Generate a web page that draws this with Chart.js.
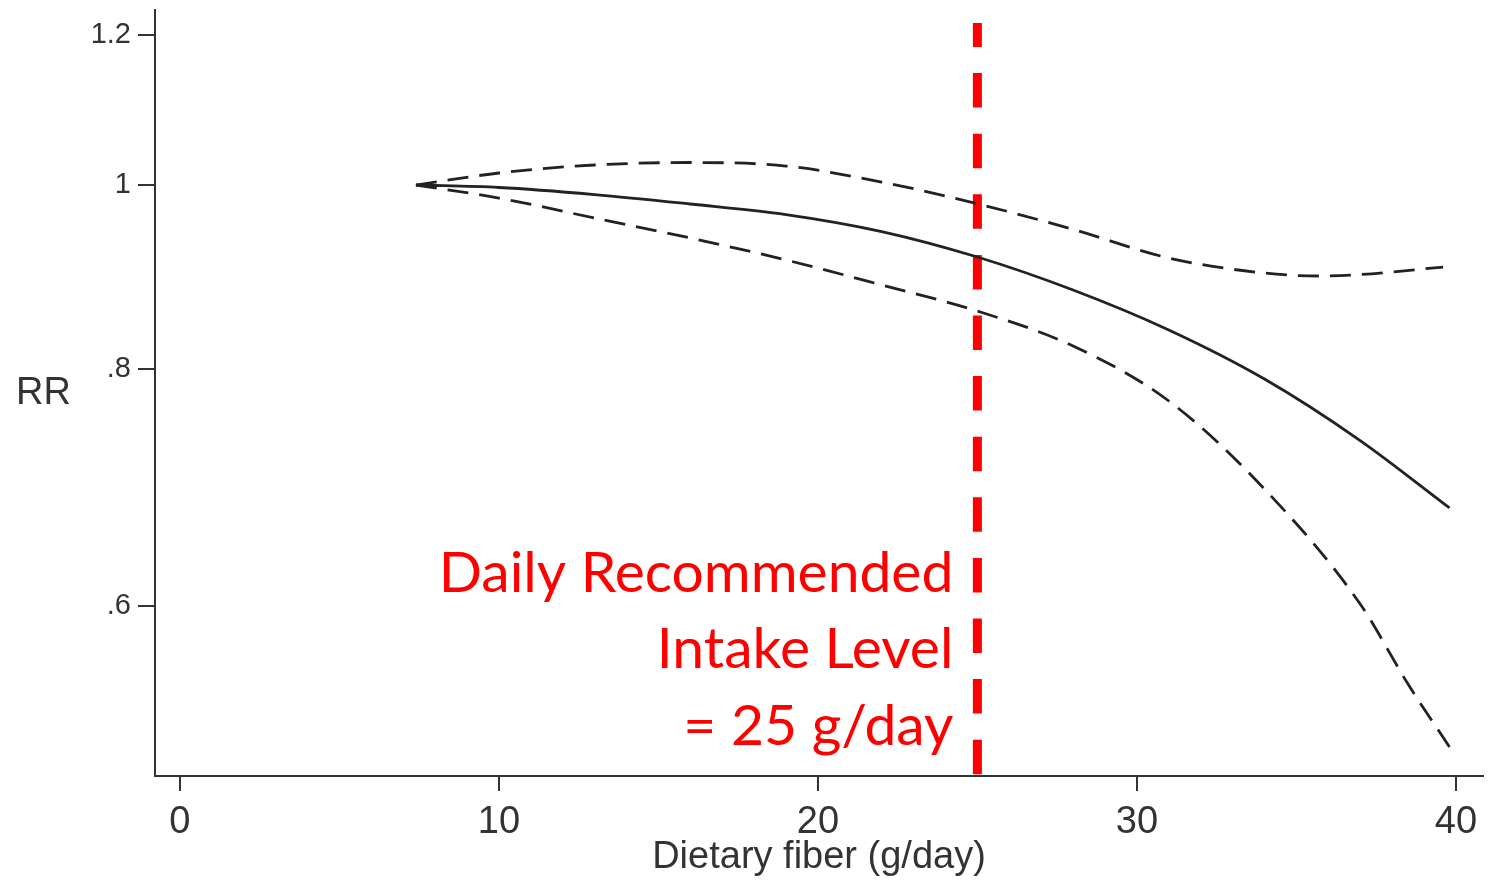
<!DOCTYPE html>
<html>
<head>
<meta charset="utf-8">
<script src="https://cdn.jsdelivr.net/npm/chart.js@4.4.1/dist/chart.umd.min.js"></script>
<style>
  html, body { margin: 0; padding: 0; background: #ffffff; }
  canvas { display: block; }
</style>
</head>
<body>
<canvas id="fiberChart" width="1504" height="881"></canvas>
<script>
// Dose-response of dietary fiber intake vs relative risk (RR), with 95% CI
const estimateFiber = [7.4, 10, 13, 16, 19, 22, 25, 28, 31, 34, 37, 39.8];
const estimateRR    = [1, 0.997, 0.9885, 0.9772, 0.9648, 0.9451, 0.9163, 0.8803, 0.8386, 0.7901, 0.7332, 0.6756];

const upperFiber = [7.4, 10, 13, 16, 19, 22, 25, 28, 31, 34, 35.7, 37, 39.6];
const upperRR    = [1, 1.0147, 1.0246, 1.0277, 1.0233, 1.0036, 0.9775, 0.9476, 0.9152, 0.8986, 0.8954, 0.8970, 0.9052];

const lowerFiber = [7.4, 10, 13, 16, 19, 22, 25, 28, 31, 34, 37, 38.5, 39.8];
const lowerRR    = [1, 0.9843, 0.9607, 0.9377, 0.9130, 0.8857, 0.8581, 0.8224, 0.7693, 0.6913, 0.6012, 0.5455, 0.5054];

// Recommended daily intake marker
const recommendedIntake = 25;
const markerRR = [1.2174, 0.4879];
const annotationLines = ['Daily Recommended', 'Intake Level', '= 25 g/day'];

// Axis ticks
const xTicks = [0, 10, 20, 30, 40];
const yTicks = [0.6, 0.8, 1, 1.2];
const yTickLabels = ['.6', '.8', '1', '1.2'];

const toPoints = (xs, ys) => xs.map((x, i) => ({ x: x, y: ys[i] }));

const axisColor = '#333333';
const curveColor = '#222222';

const annotationPlugin = {
  id: 'fiberAnnotations',
  afterDraw(chart) {
    const ctx = chart.ctx;
    const xScale = chart.scales.x;
    ctx.save();
    // Horizontal y-axis title
    ctx.fillStyle = axisColor;
    ctx.font = '38px "Liberation Sans", Arial, sans-serif';
    ctx.textAlign = 'left';
    ctx.textBaseline = 'alphabetic';
    ctx.fillText('RR', 16, 404);

    // Annotation next to the recommended-intake line
    const lineX = xScale.getPixelForValue(recommendedIntake);
    ctx.fillStyle = '#ff0000';
    ctx.font = '57px Lato, "Open Sans", sans-serif';
    ctx.textAlign = 'right';
    const baselines = [592, 668, 745];
    annotationLines.forEach((t, i) => ctx.fillText(t, lineX - 24, baselines[i]));
    ctx.restore();
  }
};

new Chart(document.getElementById('fiberChart'), {
  type: 'line',
  data: {
    datasets: [
      {
        label: 'RR',
        data: toPoints(estimateFiber, estimateRR),
        borderColor: curveColor,
        borderWidth: 2.8,
        pointRadius: 0,
        cubicInterpolationMode: 'monotone',
        fill: false
      },
      {
        label: 'Upper 95% CI',
        data: toPoints(upperFiber, upperRR),
        borderColor: curveColor,
        borderWidth: 2.8,
        borderDash: [21, 11],
        pointRadius: 0,
        cubicInterpolationMode: 'monotone',
        fill: false
      },
      {
        label: 'Lower 95% CI',
        data: toPoints(lowerFiber, lowerRR),
        borderColor: curveColor,
        borderWidth: 2.8,
        borderDash: [21, 11],
        pointRadius: 0,
        cubicInterpolationMode: 'monotone',
        fill: false
      },
      {
        label: 'Recommended intake',
        data: markerRR.map(v => ({ x: recommendedIntake, y: v })),
        borderColor: '#ff0000',
        borderWidth: 9,
        borderDash: [34.5, 26.1],
        borderDashOffset: 10.5,
        borderCapStyle: 'butt',
        pointRadius: 0,
        fill: false
      }
    ]
  },
  options: {
    responsive: false,
    animation: false,
    devicePixelRatio: 1,
    layout: { padding: { top: 10, right: 21, left: 0, bottom: 0 } },
    plugins: { legend: { display: false }, tooltip: { enabled: false } },
    scales: {
      x: {
        type: 'linear',
        min: -0.78,
        max: 40.85,
        afterBuildTicks: s => { s.ticks = xTicks.map(v => ({ value: v })); },
        afterFit: s => { s.height = 105; s.paddingLeft = 0; s.paddingRight = 0; },
        grid: { display: true, drawOnChartArea: false, drawTicks: true, tickLength: 15, color: axisColor, lineWidth: 2 },
        border: { display: true, color: axisColor, width: 2 },
        ticks: {
          color: axisColor,
          padding: 9,
          maxRotation: 0,
          autoSkip: false,
          font: { family: '"Liberation Sans", Arial, sans-serif', size: 38 },
          callback: v => String(v)
        },
        title: {
          display: true,
          text: 'Dietary fiber (g/day)',
          color: axisColor,
          font: { family: '"Liberation Sans", Arial, sans-serif', size: 38 },
          padding: { top: 0, bottom: 1 }
        }
      },
      y: {
        type: 'logarithmic',
        min: 0.4879,
        max: 1.2368,
        afterBuildTicks: s => { s.ticks = yTicks.map(v => ({ value: v })); },
        afterFit: s => { s.width = 155; s.paddingTop = 0; s.paddingBottom = 0; },
        grid: { display: true, drawOnChartArea: false, drawTicks: true, tickLength: 17, color: axisColor, lineWidth: 2 },
        border: { display: true, color: axisColor, width: 2 },
        ticks: {
          color: axisColor,
          padding: 7,
          autoSkip: false,
          font: { family: '"Liberation Sans", Arial, sans-serif', size: 29 },
          callback: v => {
            const i = yTicks.findIndex(t => Math.abs(t - v) < 1e-9);
            return i >= 0 ? yTickLabels[i] : '';
          }
        }
      }
    }
  },
  plugins: [annotationPlugin]
});
</script>
</body>
</html>
